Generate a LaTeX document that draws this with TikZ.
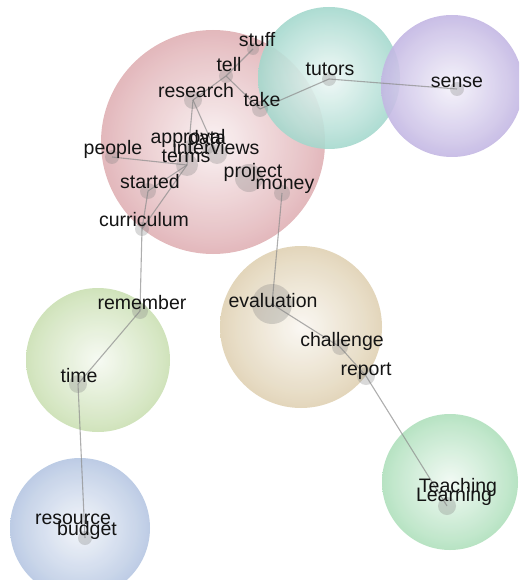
\documentclass[tikz,border=0pt]{standalone}
\usepackage{fontspec}
\setmainfont{Liberation Sans}

% theme colours (outer rim of each bubble)
\definecolor{redc}{RGB}{198,112,120}
\definecolor{tealc}{RGB}{90,184,164}
\definecolor{purplec}{RGB}{146,124,204}
\definecolor{greenc}{RGB}{160,198,118}
\definecolor{tanc}{RGB}{198,172,118}
\definecolor{bluec}{RGB}{122,152,202}
\definecolor{greenbc}{RGB}{110,198,134}
\colorlet{bubcol}{redc}

% light centre fading to the theme colour at the rim
\pgfdeclareradialshading[bubcol]{bubble}{\pgfpoint{0bp}{0bp}}{%
  color(0bp)=(bubcol!10!white); color(20bp)=(bubcol!45!white);
  color(38bp)=(bubcol!82!white); color(50bp)=(bubcol); color(75bp)=(bubcol)}

\tikzset{
  bubble/.style={/utils/exec={\colorlet{bubcol}{#1}}, shading=bubble, opacity=.9},
  link/.style={draw=black!45, line width=1.1pt, opacity=.7},
  dot/.style={fill=black!50, fill opacity=.3},
  lab/.style={anchor=base, inner sep=0pt, text=black!92,
              font=\fontsize{19.5}{20}\selectfont},
}

\begin{document}
\begin{tikzpicture}[x=1pt, y=-1pt]
\useasboundingbox (0,0) rectangle (519,580);
\clip (0,0) rectangle (519,580);

% theme bubbles
\coordinate (th-red)    at (213,142);
\coordinate (th-teal)   at (329,78);
\coordinate (th-purple) at (452,86);
\coordinate (th-tan)    at (301,327);
\coordinate (th-green)  at (98,360);
\coordinate (th-blue)   at (80,528);
\coordinate (th-greenb) at (450,482);
\shade[bubble=redc]    (th-red)    circle[radius=112pt];
\shade[bubble=tealc]   (th-teal)   circle[radius=71pt];
\shade[bubble=purplec] (th-purple) circle[radius=71pt];
\shade[bubble=tanc]    (th-tan)    circle[radius=81pt];
\shade[bubble=greenc]  (th-green)  circle[radius=72pt];
\shade[bubble=bluec]   (th-blue)   circle[radius=70pt];
\shade[bubble=greenbc] (th-greenb) circle[radius=68pt];

% concept positions
\coordinate (stuff)      at (253,49);
\coordinate (tell)       at (226,76);
\coordinate (research)   at (193,100);
\coordinate (take)       at (260,109);
\coordinate (tutors)     at (329,79);
\coordinate (sense)      at (457,89);
\coordinate (approval)   at (190,146);
\coordinate (data)       at (208,148);
\coordinate (interviews) at (217,154);
\coordinate (terms)      at (187,165);
\coordinate (people)     at (112,157);
\coordinate (project)    at (249,178);
\coordinate (money)      at (282,193);
\coordinate (started)    at (148,191);
\coordinate (curriculum) at (142,229);
\coordinate (remember)   at (140,311);
\coordinate (time)       at (78,384);
\coordinate (evaluation) at (272,304);
\coordinate (challenge)  at (340,347);
\coordinate (report)     at (366,376);
\coordinate (budget)     at (85,538);
\coordinate (teaching)   at (447,506);

% links between concepts
\draw[link] (stuff) -- (tell);
\draw[link] (tell) -- (research);
\draw[link] (tell) -- (take);
\draw[link] (take) -- (tutors);
\draw[link] (tutors) -- (sense);
\draw[link] (research) -- (terms);
\draw[link] (research) -- (interviews);
\draw[link] (people) -- (terms);
\draw[link] (terms) -- (started);
\draw[link] (terms) -- (curriculum);
\draw[link] (started) -- (curriculum);
\draw[link] (curriculum) -- (remember);
\draw[link] (remember) -- (time);
\draw[link] (time) -- (budget);
\draw[link] (money) -- (evaluation);
\draw[link] (evaluation) -- (challenge);
\draw[link] (challenge) -- (report);
\draw[link] (report) -- (teaching);

% concept dots
\fill[dot] (stuff)      circle[radius=6pt];
\fill[dot] (tell)       circle[radius=7pt];
\fill[dot] (research)   circle[radius=9pt];
\fill[dot] (take)       circle[radius=8pt];
\fill[dot] (tutors)     circle[radius=7pt];
\fill[dot] (sense)      circle[radius=7pt];
\fill[dot] (approval)   circle[radius=6pt];
\fill[dot] (data)       circle[radius=6pt];
\fill[dot] (interviews) circle[radius=10pt];
\fill[dot] (terms)      circle[radius=11pt];
\fill[dot] (people)     circle[radius=7pt];
\fill[dot] (project)    circle[radius=14pt];
\fill[dot] (money)      circle[radius=8pt];
\fill[dot] (started)    circle[radius=8pt];
\fill[dot] (curriculum) circle[radius=7pt];
\fill[dot] (remember)   circle[radius=8pt];
\fill[dot] (time)       circle[radius=9pt];
\fill[dot] (evaluation) circle[radius=20pt];
\fill[dot] (challenge)  circle[radius=8pt];
\fill[dot] (report)     circle[radius=9pt];
\fill[dot] (budget)     circle[radius=7pt];
\fill[dot] (teaching)   circle[radius=9pt];

% concept labels
\node[lab] (l-stuff)      at (257,47)  {stuff};
\node[lab] (l-tell)       at (229,72)  {tell};
\node[lab] (l-research)   at (196,98)  {research};
\node[lab] (l-take)       at (262,107) {take};
\node[lab] (l-tutors)     at (330,76)  {tutors};
\node[lab] (l-sense)      at (457,88)  {sense};
\node[lab] (l-approval)   at (188,143) {approval};
\node[lab] (l-data)       at (207,145) {data};
\node[lab] (l-interviews) at (216,154) {interviews};
\node[lab] (l-terms)      at (186,163) {terms};
\node[lab] (l-people)     at (113,154) {people};
\node[lab] (l-project)    at (253,178) {project};
\node[lab] (l-money)      at (285,189) {money};
\node[lab] (l-started)    at (150,188) {started};
\node[lab] (l-curriculum) at (144,226) {curriculum};
\node[lab] (l-remember)   at (142,309) {remember};
\node[lab] (l-time)       at (79,382)  {time};
\node[lab] (l-evaluation) at (273,307) {evaluation};
\node[lab] (l-challenge)  at (342,346) {challenge};
\node[lab] (l-report)     at (366,375) {report};
\node[lab] (l-resource)   at (73,524)  {resource};
\node[lab] (l-budget)     at (87,535)  {budget};
\node[lab] (l-teaching)   at (458,492) {Teaching};
\node[lab] (l-learning)   at (454,501) {Learning};
\end{tikzpicture}
\end{document}
